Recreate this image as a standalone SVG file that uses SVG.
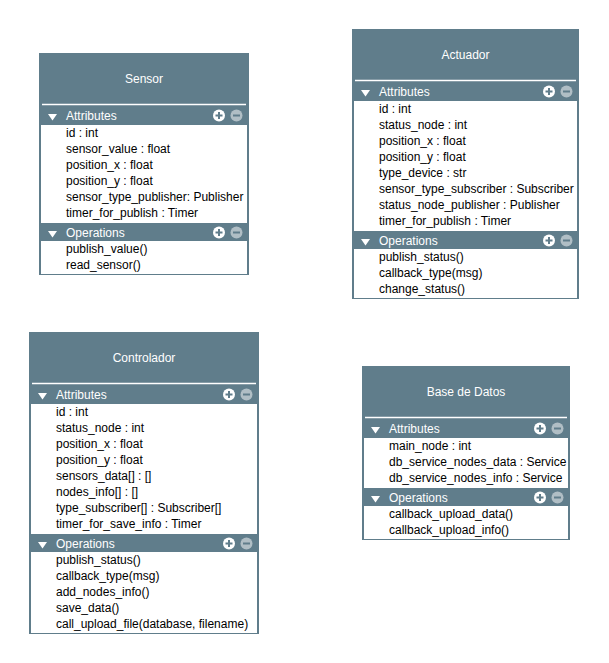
<svg xmlns="http://www.w3.org/2000/svg" width="609" height="663" viewBox="0 0 609 663">
<defs>
<style>
.frame{fill:#607D8B}
.sep{fill:#FFFFFF}
.body{fill:#FFFFFF}
.title{font-family:"Liberation Sans",Arial,Helvetica,sans-serif;font-size:12px;fill:#FFFFFF;text-anchor:middle}
.lbl{font-family:"Liberation Sans",Arial,Helvetica,sans-serif;font-size:12px;fill:#FFFFFF}
.item{font-family:"Liberation Sans",Arial,Helvetica,sans-serif;font-size:12px;fill:#000000}
.tri{fill:#FFFFFF}
.pc{fill:#FFFFFF}
.mc{fill:#B0BEC5}
.cross{stroke:#607D8B;stroke-width:2;fill:none}
</style>
<g id="plus"><circle class="pc" cx="0" cy="0" r="6"/><path class="cross" d="M-3.5 0H3.5M0 -3.5V3.5"/></g>
<g id="minus"><circle class="mc" cx="0" cy="0" r="6"/><path class="cross" d="M-3.5 0H3.5"/></g>
</defs>
<rect width="609" height="663" fill="#FFFFFF"/>
<g id="connectors"/>

<g id="sensor">
<rect class="frame" x="39" y="53" width="210" height="222"/>
<rect class="sep" x="42" y="103.75" width="204" height="1.5"/>
<text class="title" x="144" y="83">Sensor</text>
<polygon class="tri" points="48,114 57,114 52.5,120.5"/>
<text class="lbl" x="66" y="120">Attributes</text>
<use href="#plus" x="219" y="115.5"/>
<use href="#minus" x="236.5" y="115.5"/>
<rect class="body" x="41" y="125" width="206" height="98"/>
<text class="item" x="66" y="137">id : int</text>
<text class="item" x="66" y="153">sensor_value : float</text>
<text class="item" x="66" y="169">position_x : float</text>
<text class="item" x="66" y="185">position_y : float</text>
<text class="item" x="66" y="201">sensor_type_publisher: Publisher</text>
<text class="item" x="66" y="217">timer_for_publish : Timer</text>
<polygon class="tri" points="48,231 57,231 52.5,237.5"/>
<text class="lbl" x="66" y="237">Operations</text>
<use href="#plus" x="219" y="232.5"/>
<use href="#minus" x="236.5" y="232.5"/>
<rect class="body" x="41" y="241" width="206" height="33"/>
<text class="item" x="66" y="253">publish_value()</text>
<text class="item" x="66" y="269">read_sensor()</text>
</g>

<g id="actuador">
<rect class="frame" x="352" y="29" width="227" height="270"/>
<rect class="sep" x="355" y="79.75" width="221" height="1.5"/>
<text class="title" x="465.5" y="59">Actuador</text>
<polygon class="tri" points="361,90 370,90 365.5,96.5"/>
<text class="lbl" x="379" y="96">Attributes</text>
<use href="#plus" x="549" y="91.5"/>
<use href="#minus" x="566.5" y="91.5"/>
<rect class="body" x="354" y="101" width="223" height="130"/>
<text class="item" x="379" y="113">id : int</text>
<text class="item" x="379" y="129">status_node : int</text>
<text class="item" x="379" y="145">position_x : float</text>
<text class="item" x="379" y="161">position_y : float</text>
<text class="item" x="379" y="177">type_device : str</text>
<text class="item" x="379" y="193">sensor_type_subscriber : Subscriber</text>
<text class="item" x="379" y="209">status_node_publisher : Publisher</text>
<text class="item" x="379" y="225">timer_for_publish : Timer</text>
<polygon class="tri" points="361,239 370,239 365.5,245.5"/>
<text class="lbl" x="379" y="245">Operations</text>
<use href="#plus" x="549" y="240.5"/>
<use href="#minus" x="566.5" y="240.5"/>
<rect class="body" x="354" y="249" width="223" height="49"/>
<text class="item" x="379" y="261">publish_status()</text>
<text class="item" x="379" y="277">callback_type(msg)</text>
<text class="item" x="379" y="293">change_status()</text>
</g>

<g id="controlador">
<rect class="frame" x="29" y="332" width="230" height="302"/>
<rect class="sep" x="32" y="382.75" width="224" height="1.5"/>
<text class="title" x="144" y="362">Controlador</text>
<polygon class="tri" points="38,393 47,393 42.5,399.5"/>
<text class="lbl" x="56" y="399">Attributes</text>
<use href="#plus" x="229" y="394.5"/>
<use href="#minus" x="246.5" y="394.5"/>
<rect class="body" x="31" y="404" width="226" height="130"/>
<text class="item" x="56" y="416">id : int</text>
<text class="item" x="56" y="432">status_node : int</text>
<text class="item" x="56" y="448">position_x : float</text>
<text class="item" x="56" y="464">position_y : float</text>
<text class="item" x="56" y="480">sensors_data[] : []</text>
<text class="item" x="56" y="496">nodes_info[] : []</text>
<text class="item" x="56" y="512">type_subscriber[] : Subscriber[]</text>
<text class="item" x="56" y="528">timer_for_save_info : Timer</text>
<polygon class="tri" points="38,542 47,542 42.5,548.5"/>
<text class="lbl" x="56" y="548">Operations</text>
<use href="#plus" x="229" y="543.5"/>
<use href="#minus" x="246.5" y="543.5"/>
<rect class="body" x="31" y="552" width="226" height="81"/>
<text class="item" x="56" y="564">publish_status()</text>
<text class="item" x="56" y="580">callback_type(msg)</text>
<text class="item" x="56" y="596">add_nodes_info()</text>
<text class="item" x="56" y="612">save_data()</text>
<text class="item" x="56" y="628">call_upload_file(database, filename)</text>
</g>

<g id="base-de-datos">
<rect class="frame" x="362" y="366" width="208" height="174"/>
<rect class="sep" x="365" y="416.75" width="202" height="1.5"/>
<text class="title" x="466" y="396">Base de Datos</text>
<polygon class="tri" points="371,427 380,427 375.5,433.5"/>
<text class="lbl" x="389" y="433">Attributes</text>
<use href="#plus" x="540" y="428.5"/>
<use href="#minus" x="557.5" y="428.5"/>
<rect class="body" x="364" y="438" width="204" height="50"/>
<text class="item" x="389" y="450">main_node : int</text>
<text class="item" x="389" y="466">db_service_nodes_data : Service</text>
<text class="item" x="389" y="482">db_service_nodes_info : Service</text>
<polygon class="tri" points="371,496 380,496 375.5,502.5"/>
<text class="lbl" x="389" y="502">Operations</text>
<use href="#plus" x="540" y="497.5"/>
<use href="#minus" x="557.5" y="497.5"/>
<rect class="body" x="364" y="506" width="204" height="33"/>
<text class="item" x="389" y="518">callback_upload_data()</text>
<text class="item" x="389" y="534">callback_upload_info()</text>
</g>
</svg>
